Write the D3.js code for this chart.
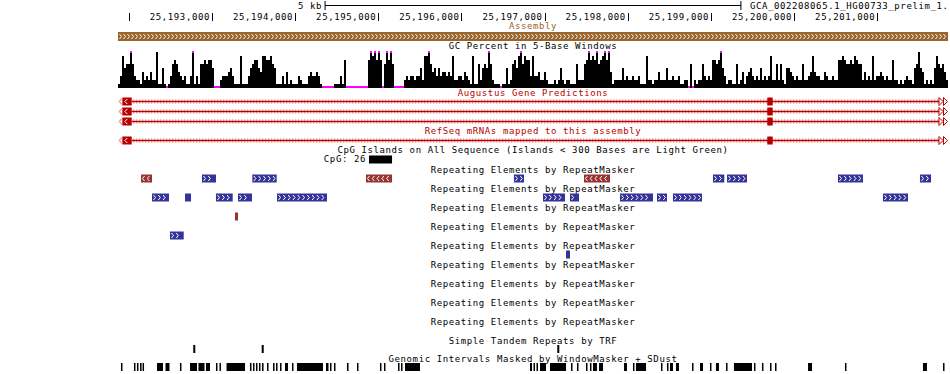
<!DOCTYPE html>
<html>
<head>
<meta charset="utf-8">
<script src="https://cdn.jsdelivr.net/npm/d3@7"></script>
<style>
body { margin: 0; background: #fff; }
svg { display: block; }
text { font-family: "DejaVu Sans Mono", monospace; font-size: 9px; letter-spacing: 0.6px; }
</style>
</head>
<body>
<svg id="chart" width="950" height="374"></svg>
<script>
"use strict";
// visible window in bases
const viewStart = 25191870;
const viewEnd = 25201850;
const rulerTicks = [25192000, 25193000, 25194000, 25195000, 25196000, 25197000,
    25198000, 25199000, 25200000, 25201000];
const scaleBarBases = 5000;
const assemblyName = "GCA_002208065.1_HG00733_prelim_1.";

// GC percent, one level per window (0-9, x = clipped at top)
const gcLevels = [
    "13856", "6x632", "21423", "24229", "11510", "13676", "43231", "13x13", "16676", "77500",
    "02333", "45311", "18111", "35677", "54887", "78651", "11314", "12111", "32111", "34334",
    "31000", "00011", "13170", "00000", "00000", "7x8x7", "x706x", "7x600", "00023", "23323",
    "35288", "x6453", "53443", "43822", "33243", "21811", "62565", "x6211", "10115", "12675",
    "8x687", "7",
    "38334", "22421", "11212", "52122", "11162", "2267x", "787x6", "78x7x", "41222", "25232",
    "23223", "11182", "21224", "22252", "23223", "11220", "60212", "26323", "27767", "x5312",
    "21161", "24134", "53232", "52323", "82262", "62155", "43232", "26223", "48433", "22432",
    "23227", "78766", "76876", "62423", "28233", "43232", "27221", "21232", "21569", "54121",
    "21586", "5642"
].join("");

// gene models (Augustus rows and RefSeq row share the same structure)
const geneExons = [[25191922, 25192035], [25199677, 25199742]];
const augustusRows = 3;
const refseqRows = 1;

const cpgIslands = [{start: 25194888, end: 25195165, label: "CpG: 26"}];

// RepeatMasker rows: [start, end, strand]
const repeatRows = [
    [[25192147, 25192279, "-"], [25192880, 25193048, "+"], [25193485, 25193778, "+"],
     [25194852, 25195165, "-"], [25196631, 25196752, "+"], [25197473, 25197786, "-"],
     [25199024, 25199160, "+"], [25199193, 25199433, "+"], [25200527, 25200828, "+"],
     [25201513, 25201646, "+"]],
    [[25192279, 25192483, "+"], [25192676, 25192748, "+"], [25193048, 25193249, "+"],
     [25193313, 25193481, "+"], [25193782, 25194383, "+"], [25196980, 25197245, "+"],
     [25197305, 25197413, "+"], [25197906, 25198303, "+"], [25198351, 25198471, "+"],
     [25198543, 25198892, "+"], [25201068, 25201369, "+"]],
    [[25193277, 25193313, "-"]],
    [[25192495, 25192660, "+"]],
    [[25197257, 25197305, "+"]],
    [], [], [], []
];

const trfRepeats = [[25192775, 25192799], [25193598, 25193622], [25197152, 25197176]];

const maskedIntervals = [
    [25191906, 25191924], [25192062, 25192080], [25192098, 25192116], [25192135, 25192153],
    [25192165, 25192183], [25192339, 25192411], [25192441, 25192489], [25192615, 25192633],
    [25192736, 25192820], [25192838, 25192910], [25192928, 25192976], [25193048, 25193066],
    [25193090, 25193108], [25193175, 25193397], [25193457, 25193475], [25193493, 25193511],
    [25193529, 25193547], [25193565, 25193583], [25193601, 25193620], [25193662, 25193680],
    [25193734, 25193752], [25193770, 25193788], [25193818, 25193836], [25193878, 25193914],
    [25193962, 25193980], [25194022, 25194335], [25194371, 25194401], [25194419, 25194437],
    [25194467, 25194485], [25194623, 25194642], [25194744, 25194762], [25195020, 25195038],
    [25195068, 25195086], [25195237, 25195255], [25195273, 25195291], [25195321, 25195501],
    [25196824, 25196848], [25196866, 25196884], [25196902, 25196920], [25196944, 25197016],
    [25197064, 25197257], [25197317, 25197335], [25197389, 25197407], [25197497, 25197515],
    [25197545, 25197563], [25197581, 25197629], [25197654, 25197702], [25197954, 25197990],
    [25198062, 25198080], [25198098, 25198219], [25198399, 25198417], [25198471, 25198489],
    [25198507, 25198543], [25198579, 25198615], [25198772, 25198790], [25198868, 25198904],
    [25198988, 25199006], [25199060, 25199096], [25199181, 25199199], [25199276, 25199493],
    [25199517, 25199535], [25199613, 25199631], [25199710, 25199728], [25199770, 25199788],
    [25200167, 25200215], [25200611, 25200629], [25201549, 25201597], [25201790, 25201808]
];

const repeatLabel = "Repeating Elements by RepeatMasker";
const colors = {
    assembly: "#99652b", gene: "#b80000", genePink: "#f0a8a8",
    plus: "#333399", minus: "#993333", magenta: "#ff00ff"
};

const svg = d3.select("#chart");
const x = d3.scaleLinear().domain([viewStart, viewEnd]).range([118, 948]);
const mid = (x.range()[0] + x.range()[1]) / 2;

function label(txt, y, color, anchor, xp) {
    svg.append("text")
        .attr("x", xp === undefined ? mid : xp)
        .attr("y", y)
        .attr("text-anchor", anchor || "middle")
        .attr("fill", color || "#000")
        .text(txt);
}

function chevrons(g, x0, x1, cy, dir, step, color) {
    let pts = [];
    if (x1 - x0 >= 8) {
        for (let p = x0 + 1.5; p + 2 <= x1 - 1; p += step) pts.push(p);
    }
    g.selectAll(null).data(pts).enter().append("path")
        .attr("d", p => dir > 0
            ? `M${p},${cy - 2.5}L${p + 2},${cy}L${p},${cy + 2.5}`
            : `M${p + 2},${cy - 2.5}L${p},${cy}L${p + 2},${cy + 2.5}`)
        .attr("fill", "none")
        .attr("stroke", color)
        .attr("stroke-width", 1);
}

// ---- ruler + scale bar
const half = (x(viewStart + scaleBarBases) - x(viewStart)) / 2;
const barL = mid - half, barR = mid + half;
svg.append("line").attr("x1", barL).attr("x2", barR).attr("y1", 5.5).attr("y2", 5.5)
    .attr("stroke", "#000");
[barL, barR].forEach(b => svg.append("line").attr("x1", b).attr("x2", b)
    .attr("y1", 1).attr("y2", 10).attr("stroke", "#000"));
label("5 kb", 8.5, "#000", "end", barL - 3);
label(assemblyName, 8.5, "#000", "start", barR + 9);

const ruler = svg.append("g");
ruler.selectAll("line").data(rulerTicks).enter().append("line")
    .attr("x1", d => Math.round(x(d)) + 0.5).attr("x2", d => Math.round(x(d)) + 0.5)
    .attr("y1", 13).attr("y2", 21).attr("stroke", "#000");
ruler.selectAll("text").data(rulerTicks.filter(d => x(d) - 62 > x.range()[0]))
    .enter().append("text")
    .attr("x", d => x(d) - 2).attr("y", 20).attr("text-anchor", "end")
    .text(d => d3.format(",")(d));

// ---- assembly
label("Assembly", 29, colors.assembly);
svg.append("rect").attr("x", x(viewStart)).attr("y", 32)
    .attr("width", x(viewEnd) - x(viewStart)).attr("height", 9)
    .attr("fill", colors.assembly);
chevrons(svg.append("g"), x(viewStart), x(viewEnd), 36.5, 1, 4, "#fff");

// ---- GC percent
label("GC Percent in 5-Base Windows", 49);
const gcVals = gcLevels.split("").map(c => c === "x" ? 10 : +c);
const binSize = (viewEnd - viewStart) / gcVals.length;
const gy = d3.scaleLinear().domain([0, 9]).range([88, 52]).clamp(true);
svg.append("rect").attr("x", x(viewStart)).attr("y", 86)
    .attr("width", x(viewEnd) - x(viewStart)).attr("height", 2)
    .attr("fill", colors.magenta);
const gc = svg.append("g").attr("shape-rendering", "crispEdges");
gc.selectAll("rect.bar").data(gcVals.map((v, i) => ({v, i})).filter(d => d.v > 0))
    .enter().append("rect").attr("class", "bar")
    .attr("x", d => x(viewStart + d.i * binSize))
    .attr("width", d => x(viewStart + (d.i + 1) * binSize) - x(viewStart + d.i * binSize))
    .attr("y", d => gy(d.v))
    .attr("height", d => 88 - gy(d.v))
    .attr("fill", "#000");
gc.selectAll("rect.clip").data(gcVals.map((v, i) => ({v, i})).filter(d => d.v > 9))
    .enter().append("rect").attr("class", "clip")
    .attr("x", d => x(viewStart + d.i * binSize))
    .attr("width", d => x(viewStart + (d.i + 1) * binSize) - x(viewStart + d.i * binSize))
    .attr("y", 51).attr("height", 1.5)
    .attr("fill", colors.magenta);

// ---- genes
function drawGene(top) {
    const g = svg.append("g");
    const cy = top + 4;
    const lineL = x(geneExons[0][1]);
    const lineR = x(viewEnd) - 9;
    const ticks = d3.range(lineL + 2, lineR, 3);
    g.selectAll("line.t").data(ticks).enter().append("line").attr("class", "t")
        .attr("x1", d => d).attr("x2", d => d)
        .attr("y1", cy - 2.5).attr("y2", cy + 2.5)
        .attr("stroke", colors.genePink);
    g.append("line").attr("x1", lineL).attr("x2", lineR)
        .attr("y1", cy).attr("y2", cy).attr("stroke", colors.gene).attr("stroke-width", 1.3);
    g.selectAll("rect").data(geneExons).enter().append("rect")
        .attr("x", d => x(d[0])).attr("width", d => x(d[1]) - x(d[0]))
        .attr("y", top).attr("height", 8).attr("fill", colors.gene);
    const e0 = x(geneExons[0][0]);
    g.append("path").attr("d", `M${e0 + 5},${cy - 2.5}L${e0 + 2.5},${cy}L${e0 + 5},${cy + 2.5}`)
        .attr("fill", "none").attr("stroke", "#fff");
    g.append("path").attr("d", `M${e0 - 0.5},${cy - 3}L${e0 - 3},${cy}L${e0 - 0.5},${cy + 3}`)
        .attr("fill", "none").attr("stroke", colors.genePink).attr("stroke-width", 1.5);
    [lineR, lineR + 4.5].forEach(a => g.append("path")
        .attr("d", `M${a},${cy - 4}L${a + 4},${cy}L${a},${cy + 4}Z`)
        .attr("fill", "#fff").attr("stroke", colors.gene));
}
label("Augustus Gene Predictions", 95.5, colors.gene);
d3.range(augustusRows).forEach(i => drawGene(97.5 + i * 10));
label("RefSeq mRNAs mapped to this assembly", 133.5, colors.gene);
d3.range(refseqRows).forEach(i => drawGene(136.5 + i * 10));

// ---- CpG
label("CpG Islands on All Sequence (Islands < 300 Bases are Light Green)", 152.5);
cpgIslands.forEach(c => {
    svg.append("rect").attr("x", x(c.start)).attr("width", x(c.end) - x(c.start))
        .attr("y", 155.5).attr("height", 8).attr("fill", "#000");
    label(c.label, 162, "#000", "end", x(c.start) - 3);
});

// ---- RepeatMasker
repeatRows.forEach((row, i) => {
    const base = 172.5 + i * 19;
    label(repeatLabel, base);
    const g = svg.append("g");
    row.forEach(r => {
        const x0 = x(r[0]), x1 = x(r[1]);
        const col = r[2] === "+" ? colors.plus : colors.minus;
        g.append("rect").attr("x", x0).attr("width", x1 - x0)
            .attr("y", base + 2).attr("height", 8).attr("fill", col);
        chevrons(g, x0, x1, base + 6, r[2] === "+" ? 1 : -1, 4.8, "#fff");
    });
});

// ---- TRF
label("Simple Tandem Repeats by TRF", 343.5);
svg.append("g").selectAll("rect").data(trfRepeats).enter().append("rect")
    .attr("x", d => x(d[0])).attr("width", d => x(d[1]) - x(d[0]))
    .attr("y", 345).attr("height", 8).attr("fill", "#000");

// ---- WindowMasker
label("Genomic Intervals Masked by WindowMasker + SDust", 362);
svg.append("g").selectAll("rect").data(maskedIntervals).enter().append("rect")
    .attr("x", d => x(d[0])).attr("width", d => x(d[1]) - x(d[0]))
    .attr("y", 363).attr("height", 8).attr("fill", "#000");
</script>
</body>
</html>
